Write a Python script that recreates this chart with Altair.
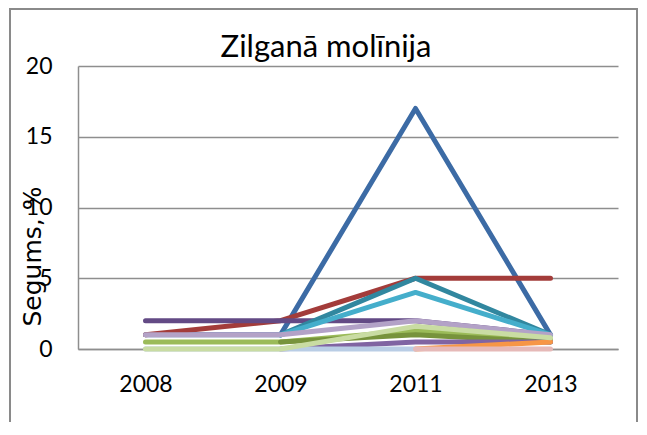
import altair as alt
import pandas as pd

years = ["2008", "2009", "2011", "2013"]

series_names = ["s1", "s2", "s3", "s4", "s5", "s6", "s7", "s8", "s9", "s10", "s11", "s12", "s13"]
series_colors = ["#3C6BA5", "#A33C3A", "#9BBB59", "#634A85", "#31879F", "#45AECB",
                 "#77933C", "#B3A2C7", "#8064A2", "#F79646", "#B9CDE5", "#C9DCA3", "#E6B9B8"]
N = None
s1 = [1, 1, 17, 1]
s2 = [1, 2, 5, 5]
s3 = [0.5, 0.5, 1.3, 0.7]
s4 = [2, 2, 2, 1]
s5 = [N, 1, 5, 1]
s6 = [N, 1, 4, 1]
s7 = [N, 0.5, 1, 0.5]
s8 = [1, 1, 2, 1]
s9 = [N, 0, 0.5, 0.5]
s10 = [N, N, 0, 0.5]
s11 = [0, 0, 0, N]
s12 = [0, 0, 1.6, 0.8]
s13 = [N, N, 0, 0]

all_series = [s1, s2, s3, s4, s5, s6, s7, s8, s9, s10, s11, s12, s13]

rows = []
for i, (name, vals) in enumerate(zip(series_names, all_series)):
    for y, v in zip(years, vals):
        if v is not None:
            rows.append({"year": y, "value": v, "series": name, "ord": i})
df = pd.DataFrame(rows)

FONT = "Lato"

lines = alt.Chart(df).mark_line(strokeWidth=5, strokeCap="round", strokeJoin="round").encode(
    x=alt.X("year:O", sort=years,
            axis=alt.Axis(title=None, labelAngle=0, ticks=False, domain=True,
                          domainColor="#8E8E8E", domainWidth=1.5, grid=False,
                          labelFont=FONT, labelFontSize=23, labelColor="#000000",
                          labelPadding=24)),
    y=alt.Y("value:Q", scale=alt.Scale(domain=[0, 20], nice=False),
            axis=alt.Axis(values=[0, 5, 10, 15, 20], ticks=False, domain=True,
                          domainColor="#8E8E8E", domainWidth=1.5,
                          grid=True, gridColor="#8E8E8E", gridWidth=1.5,
                          labelFont=FONT, labelFontSize=23, labelColor="#000000",
                          labelPadding=26,
                          title="Segums, %", titleFont="DejaVu Sans", titleFontSize=25,
                          titleFontWeight="normal", titleColor="#000000",
                          titleAngle=-90, titleAlign="center", titleBaseline="alphabetic",
                          titleX=-38, titleY=190)),
    color=alt.Color("series:N", scale=alt.Scale(domain=series_names, range=series_colors),
                    legend=None),
    order=alt.Order("ord:Q"),
    detail="series:N",
)

frame = alt.Chart(pd.DataFrame({"a": [0]})).mark_rect(
    fill="transparent", stroke="#8A8A8A", strokeWidth=2
).encode(
    x=alt.value(-68), x2=alt.value(559), y=alt.value(-57), y2=alt.value(400)
)

chart = alt.layer(frame, lines).properties(
    width=540, height=283,
    title=alt.TitleParams("Zilganā molīnija", font=FONT, fontSize=31,
                          fontWeight="normal", color="#000000",
                          baseline="alphabetic", offset=0, dy=80, dx=-22,
                          frame="group", anchor="middle"),
    autosize=alt.AutoSizeParams(type="none"),
    padding={"left": 70, "top": 58, "right": 21, "bottom": 73},
).configure_view(stroke=None)

chart.save("out.html", embed_options={"renderer": "svg", "actions": False})
